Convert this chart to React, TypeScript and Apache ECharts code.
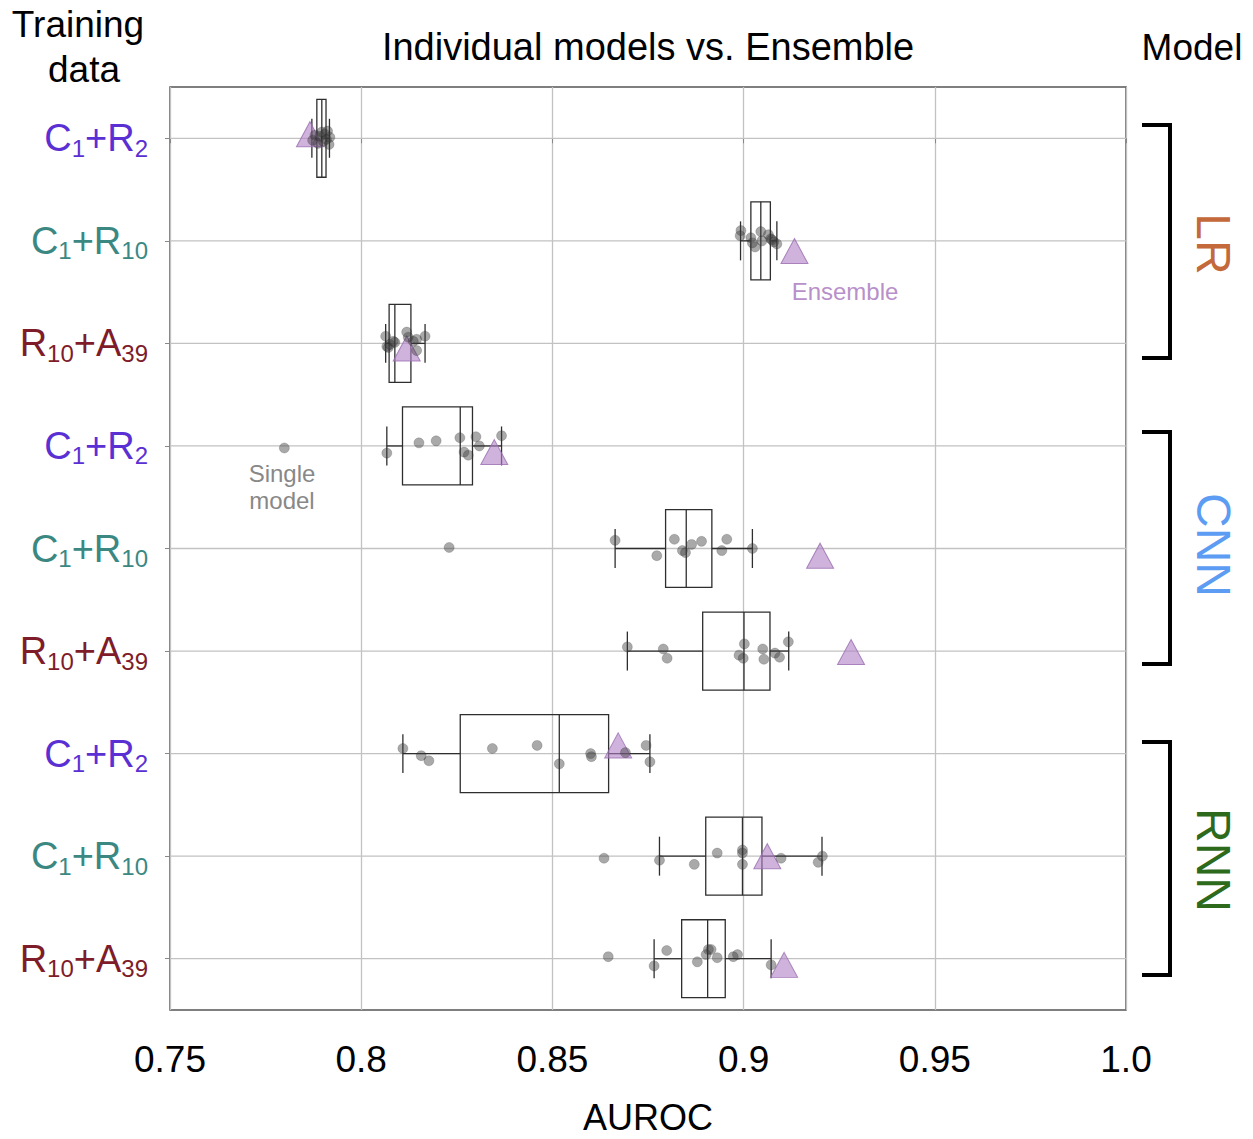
import React, { useEffect, useRef } from 'react';
import * as echarts from 'echarts';

const FONT = '"Liberation Sans", Arial, Helvetica, sans-serif';

// ---------- data ----------
const models = ['LR', 'CNN', 'RNN'];
const modelColors = ['#c3693b', '#5c9cf2', '#2e6a1c'];
const trainingSets = ['C1+R2', 'C1+R10', 'R10+A39'];
const trainingColors = ['#5a2fd3', '#3b8883', '#7e1c29'];
const rowKeys = [
  'LR:C1+R2', 'LR:C1+R10', 'LR:R10+A39',
  'CNN:C1+R2', 'CNN:C1+R10', 'CNN:R10+A39',
  'RNN:C1+R2', 'RNN:C1+R10', 'RNN:R10+A39',
];
const xTicks = [0.75, 0.8, 0.85, 0.9, 0.95, 1.0];

// [whisker low, Q1, median, Q3, whisker high]
const boxStats = [
  [0.7871, 0.7884, 0.7897, 0.7908, 0.7917],
  [0.8992, 0.9019, 0.9045, 0.9070, 0.9087],
  [0.8064, 0.8073, 0.8088, 0.8130, 0.8167],
  [0.8067, 0.8108, 0.8259, 0.8291, 0.8367],
  [0.8664, 0.8796, 0.8850, 0.8917, 0.9023],
  [0.8696, 0.8893, 0.9001, 0.9069, 0.9118],
  [0.8109, 0.8259, 0.8518, 0.8647, 0.8755],
  [0.8780, 0.8901, 0.8997, 0.9048, 0.9205],
  [0.8766, 0.8838, 0.8906, 0.8952, 0.9072],
];

const singleAUROC = [
  [0.7873, 0.7879, 0.7887, 0.7892, 0.7897, 0.7901, 0.7905, 0.7909, 0.7912, 0.7916, 0.7918],
  [0.8993, 0.8991, 0.9019, 0.9023, 0.9030, 0.9045, 0.9048, 0.9065, 0.9071, 0.9079, 0.9087, 0.9074],
  [0.8064, 0.8067, 0.8071, 0.8075, 0.8084, 0.8088, 0.8119, 0.8123, 0.8145, 0.8145, 0.8167, 0.8136],
  [0.7799, 0.8067, 0.8151, 0.8196, 0.8258, 0.8269, 0.8280, 0.8300, 0.8309, 0.8367],
  [0.8230, 0.8664, 0.8773, 0.8819, 0.8840, 0.8848, 0.8864, 0.8890, 0.8943, 0.8956, 0.9023],
  [0.8696, 0.8790, 0.8800, 0.8988, 0.8999, 0.9002, 0.9050, 0.9053, 0.9082, 0.9094, 0.9117],
  [0.8109, 0.8157, 0.8177, 0.8343, 0.8460, 0.8518, 0.8600, 0.8602, 0.8691, 0.8745, 0.8755],
  [0.8635, 0.8780, 0.8871, 0.8931, 0.8997, 0.8997, 0.8997, 0.9098, 0.9195, 0.9206],
  [0.8646, 0.8766, 0.8799, 0.8879, 0.8902, 0.8908, 0.8915, 0.8931, 0.8973, 0.8984, 0.9072],
];
// vertical jitter, in row units
const singleJitter = [
  [0.02, -0.03, 0.05, -0.02, -0.06, 0.03, -0.04, 0.01, -0.07, 0.06, -0.01],
  [-0.10, -0.05, -0.03, 0.02, 0.06, -0.09, 0, -0.06, -0.02, 0.01, 0.03, -0.01],
  [-0.07, 0.03, 0.04, 0.01, -0.02, -0.01, -0.11, -0.06, -0.04, 0.07, -0.07, -0.02],
  [0.02, 0.07, -0.03, -0.05, -0.08, 0.06, 0.09, -0.09, 0, -0.10],
  [-0.01, -0.08, 0.07, -0.09, 0.02, 0.04, -0.04, -0.07, 0.02, -0.09, 0],
  [-0.04, -0.02, 0.07, 0.04, 0.07, -0.07, -0.02, 0.08, 0.02, 0.06, -0.09],
  [-0.05, 0.02, 0.07, -0.05, -0.08, 0.10, 0, 0.03, -0.01, -0.08, 0.08],
  [0.02, 0.04, 0.08, -0.03, -0.06, -0.03, 0.08, 0.02, 0.06, 0],
  [-0.02, 0.07, -0.08, 0.03, -0.04, -0.09, -0.09, -0.01, -0.02, -0.04, 0.06],
];

const ensembleAUROC = [0.7866, 0.9133, 0.8119, 0.8348, 0.9200, 0.9281, 0.8672, 0.9062, 0.9106];
const ensembleJitter = [-0.04, 0.10, 0.05, 0.06, 0.07, 0.01, -0.08, 0, 0.06];

// ---------- helpers ----------
const styleKeys = ['p', 't', 'r'];
function labelFormatter(key: string) {
  const ts = key.split(':')[1];
  const k = trainingSets.indexOf(ts);
  const st = styleKeys[k];
  return ts.replace(/(\d+)|([^\d]+)/g, (_m: string, d: string, t: string) =>
    d ? `{${st}s|${d}}` : `{${st}|${t}}`
  );
}

function buildRich() {
  const rich: any = {};
  styleKeys.forEach((s, i) => {
    rich[s] = { color: trainingColors[i], fontSize: 38, fontFamily: FONT, lineHeight: 44 };
    rich[s + 's'] = {
      color: trainingColors[i],
      fontSize: 24,
      fontFamily: FONT,
      lineHeight: 30,
      verticalAlign: 'bottom',
    };
  });
  return rich;
}

const X_MIN = xTicks[0];
const X_MAX = xTicks[xTicks.length - 1];

export default function App() {
  const ref = useRef<HTMLDivElement>(null);

  useEffect(() => {
    document.body.style.margin = '0';
    if (!ref.current) return;
    const chart = echarts.init(ref.current, null, { renderer: 'svg' });

    const scatterData: number[][] = [];
    singleAUROC.forEach((vals, i) =>
      vals.forEach((v, j) => scatterData.push([v, i + singleJitter[i][j]]))
    );
    const ensembleData = ensembleAUROC.map((v, i) => [v, i + ensembleJitter[i]]);

    const brackets = [
      [125, 358],
      [432, 664],
      [742, 975],
    ];
    const modelLabelY = [244, 545, 860];

    const textEl = (text: string, x: number, y: number, size: number, color: string, extra: any = {}) => ({
      type: 'text',
      x,
      y,
      silent: true,
      ...extra,
      style: {
        text,
        x: 0,
        y: 0,
        fill: color,
        font: `${size}px ${FONT}`,
        align: 'center',
        verticalAlign: 'middle',
        textAlign: 'center',
        textVerticalAlign: 'middle',
      },
    });

    const graphics: any[] = [
      textEl('Individual models vs. Ensemble', 648, 47, 38, '#000'),
      textEl('Training', 78, 24, 37, '#000'),
      textEl('data', 84, 69, 37, '#000'),
      textEl('Model', 1192, 47, 37, '#000'),
      textEl('AUROC', 648, 1117, 36, '#000'),
      textEl('Ensemble', 845, 291, 24, '#b890c9'),
      textEl('Single', 282, 473, 24, '#888888'),
      textEl('model', 282, 500, 24, '#888888'),
    ];
    brackets.forEach(([y1, y2], i) => {
      graphics.push({
        type: 'polyline',
        silent: true,
        shape: { points: [[1142, y1], [1170, y1], [1170, y2], [1142, y2]] },
        style: { stroke: '#000', lineWidth: 4, fill: 'none' },
      });
      graphics.push(
        textEl(models[i], 1213, modelLabelY[i], 48, modelColors[i], { rotation: -Math.PI / 2 })
      );
    });

    const option: any = {
      animation: false,
      backgroundColor: '#fff',
      grid: {
        left: 170,
        right: 127,
        top: 87,
        bottom: 129,
        show: true,
        borderColor: '#555',
        borderWidth: 1.5,
        backgroundColor: 'transparent',
        containLabel: false,
      },
      xAxis: {
        type: 'value',
        min: X_MIN,
        max: X_MAX,
        interval: 0.05,
        axisLine: { show: false },
        axisTick: { show: true, length: 5, lineStyle: { color: '#888' } },
        splitLine: { show: true, lineStyle: { color: '#c2c2c2', width: 1.3 } },
        axisLabel: {
          margin: 31,
          fontSize: 37,
          fontFamily: FONT,
          color: '#000',
          formatter: (v: number) => (Math.abs(v - 1) < 1e-9 ? '1.0' : String(+v.toFixed(2))),
        },
      },
      yAxis: [
        {
          type: 'category',
          data: rowKeys,
          inverse: true,
          axisLine: { show: false },
          axisTick: { show: true, alignWithLabel: true, length: 5, lineStyle: { color: '#888' } },
          splitLine: { show: false },
          axisLabel: {
            margin: 22,
            formatter: labelFormatter,
            rich: buildRich(),
          },
        },
        {
          type: 'value',
          min: -0.5,
          max: 8.5,
          inverse: true,
          show: false,
        },
      ],
      series: [
        {
          type: 'custom',
          name: 'grid rows',
          yAxisIndex: 0,
          silent: true,
          z: 1,
          data: rowKeys.map((k) => [X_MIN, k]),
          renderItem: (_p: any, api: any) => {
            const p1 = api.coord([X_MIN, api.value(1)]);
            const p2 = api.coord([X_MAX, api.value(1)]);
            return {
              type: 'line',
              shape: { x1: p1[0], y1: p1[1], x2: p2[0], y2: p2[1] },
              style: { stroke: '#c2c2c2', lineWidth: 1.3 },
            };
          },
        },
        {
          type: 'custom',
          name: 'box',
          yAxisIndex: 1,
          silent: true,
          z: 2,
          data: boxStats.map((s, i) => [i, ...s]),
          encode: { x: [1, 2, 3, 4, 5], y: 0 },
          renderItem: (_p: any, api: any) => {
            const r = api.value(0);
            const band = api.size([0, 1])[1];
            const xs = [1, 2, 3, 4, 5].map((d) => api.coord([api.value(d), r])[0]);
            const cy = api.coord([api.value(3), r])[1];
            const [lo, q1, md, q3, hi] = xs;
            const bh = band * 0.76;
            const ch = band * 0.38;
            const st = { stroke: '#2e2e2e', lineWidth: 1.3, fill: 'none' };
            return {
              type: 'group',
              children: [
                { type: 'line', shape: { x1: lo, y1: cy, x2: q1, y2: cy }, style: st },
                { type: 'line', shape: { x1: q3, y1: cy, x2: hi, y2: cy }, style: st },
                { type: 'line', shape: { x1: lo, y1: cy - ch / 2, x2: lo, y2: cy + ch / 2 }, style: st },
                { type: 'line', shape: { x1: hi, y1: cy - ch / 2, x2: hi, y2: cy + ch / 2 }, style: st },
                { type: 'rect', shape: { x: q1, y: cy - bh / 2, width: q3 - q1, height: bh }, style: st },
                { type: 'line', shape: { x1: md, y1: cy - bh / 2, x2: md, y2: cy + bh / 2 }, style: st },
              ],
            };
          },
        },
        {
          type: 'scatter',
          name: 'Ensemble',
          yAxisIndex: 1,
          z: 3,
          symbol: 'triangle',
          symbolSize: [27, 25],
          itemStyle: { color: 'rgba(176,128,196,0.75)', borderColor: '#9a6db0', borderWidth: 1 },
          data: ensembleData,
        },
        {
          type: 'scatter',
          name: 'Single model',
          yAxisIndex: 1,
          z: 4,
          symbol: 'circle',
          symbolSize: 10,
          itemStyle: { color: 'rgba(60,60,60,0.55)', borderColor: 'rgba(30,30,30,0.4)', borderWidth: 0.6 },
          data: scatterData,
        },
      ],
      graphic: { elements: graphics },
    };

    chart.setOption(option);
    return () => chart.dispose();
  }, []);

  return <div ref={ref} style={{ width: 1253, height: 1139 }} />;
}
